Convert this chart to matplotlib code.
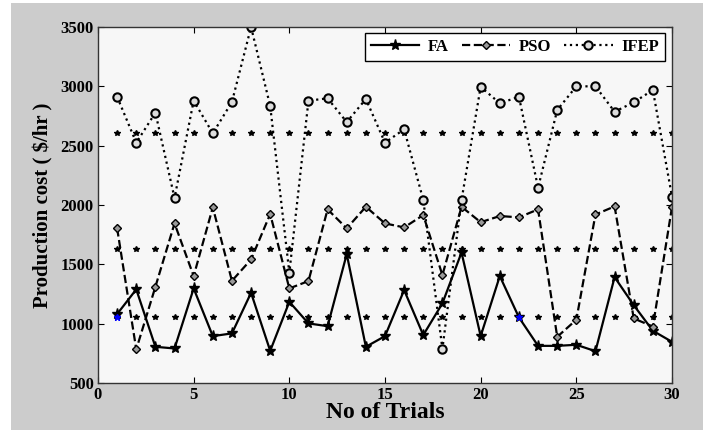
import numpy as np
import matplotlib
matplotlib.use('Agg')
import matplotlib.pyplot as plt
from matplotlib.patches import Rectangle

trials = list(range(1, 31))

fa = [1081, 1289, 805, 791, 1297, 895, 918, 1260, 771, 1184,
      1002, 979, 1586, 805, 895, 1283, 904, 1171, 1600, 895,
      1401, 1053, 813, 813, 822, 768, 1392, 1156, 940, 847]
pso = [1803, 783, 1311, 1845, 1401, 1980, 1361, 1541, 1924, 1297,
       1359, 1963, 1803, 1985, 1845, 1811, 1915, 1409, 1985, 1855,
       1907, 1896, 1963, 889, 1033, 1920, 1988, 1044, 976, 1983]
ifep = [2912, 2525, 2778, 2059, 2879, 2604, 2868, 3500, 2834, 1429,
        2879, 2899, 2699, 2893, 2525, 2638, 2042, 788, 2042, 2996,
        2857, 2912, 2145, 2800, 3000, 3000, 2786, 2865, 2969, 2070]

# horizontal reference levels (marker rows)
ref_levels = [2605, 1627, 1053]
blue_trials = [1, 22]

plt.rcParams['font.family'] = ['Liberation Serif', 'DejaVu Serif']
plt.rcParams['font.weight'] = 'bold'

fig = plt.figure(figsize=(7.03, 4.30), dpi=100, facecolor='white')
fig.patches.append(Rectangle((11 / 703, 0), 1, 1 - 3 / 430, transform=fig.transFigure,
                             facecolor='#cccccc', edgecolor='none', zorder=-1))
ax = fig.add_axes([98 / 703, 1 - 383 / 430, 574 / 703, 356 / 430])
ax.set_facecolor('#f7f7f7')

for lev in ref_levels:
    ax.plot(trials, [lev] * len(trials), linestyle='none', marker='*',
            color='black', markersize=4)
ax.plot(blue_trials, [ref_levels[2]] * len(blue_trials), linestyle='none',
        marker='*', color='blue', markersize=5, zorder=5)

ax.plot(trials, fa, '-', color='black', lw=1.6, marker='*', markersize=8, label='FA')
ax.plot(trials, pso, '--', color='black', lw=1.6, marker='D', markersize=4.5,
        markerfacecolor='#999999', label='PSO')
ax.plot(trials, ifep, ':', color='black', lw=1.6, marker='o', markersize=6,
        markerfacecolor='#dddddd', markeredgewidth=1.5, label='IFEP')

ax.set_xlim(0, 30)
ax.set_ylim(500, 3500)
ax.set_xticks(range(0, 31, 5))
ax.set_yticks(range(500, 3501, 500))
ax.tick_params(direction='in', top=True, right=True, labelsize=12, length=4, pad=3)
for lab in ax.get_xticklabels() + ax.get_yticklabels():
    lab.set_fontweight('bold')
for sp in ax.spines.values():
    sp.set_color('#333333')
    sp.set_linewidth(1.0)

ax.set_xlabel('No of Trials', fontsize=17, fontweight='bold', labelpad=-1)
ax.set_ylabel('Production cost ( $/hr )', fontsize=15, fontweight='bold', labelpad=5)

leg = ax.legend(loc='upper right', ncol=3, fontsize=12, frameon=True, fancybox=False,
                edgecolor='black', framealpha=1, borderpad=0.35, handlelength=2.9,
                columnspacing=0.8, handletextpad=0.5, borderaxespad=0,
                bbox_to_anchor=(0.987, 0.983))
leg.get_frame().set_linewidth(1.0)
for t in leg.get_texts():
    t.set_fontweight('bold')

fig.savefig('out.png', dpi=100, facecolor=fig.get_facecolor())
